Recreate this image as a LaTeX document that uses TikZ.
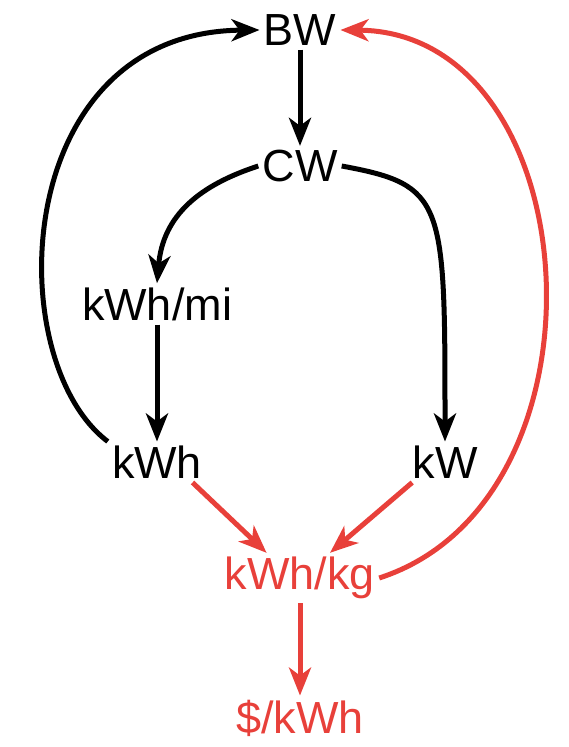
\documentclass[tikz,border=0pt]{standalone}
\usepackage{fontspec}
\setmainfont{Liberation Sans}
\usepackage{xcolor}
\usetikzlibrary{arrows.meta,positioning,calc}
\definecolor{ink}{HTML}{000000}
\definecolor{hotred}{HTML}{E8403A}

\begin{document}
\begin{tikzpicture}[x=1pt,y=-1pt,every node/.style={font=\fontsize{45}{50}\selectfont,inner sep=4pt},lab/.style={text=ink},redlab/.style={text=hotred},arr/.style={-{Stealth[length=28pt,width=22pt,inset=8pt]},line width=5pt,draw=ink},redarr/.style={arr,draw=hotred}]
\useasboundingbox (0,0) rectangle (568,747);
\node[lab] (bw) at (300,30) {BW};
\node[lab] (cw) at (300,166) {CW};
\node[lab] (kwhmi) at (157,304) {kWh/mi};
\node[lab] (kwh) at (157,462) {kWh};
\node[lab] (kw) at (445,462) {kW};
\node[redlab] (kwhkg) at (300,578) {kWh/kg};
\node[redlab] (cost) at (300,718) {\$/kWh};
\draw[arr] (bw) -- (cw);
\draw[arr] (cw.west) .. controls (200,185) and (163,215) .. (kwhmi.north);
\draw[arr] (cw.east) .. controls (445,185) and (445,200) .. (kw.north);
\draw[arr] (kwhmi) -- (kwh);
\draw[arr] (kwh.north west) .. controls (0,360) and (10,32) .. (bw.west);
\draw[redarr] (kwh.-30) -- (kwhkg.143);
\draw[redarr] (kw.212) -- (kwhkg.40);
\draw[redarr] (kwhkg.east) .. controls (620,500) and (590,32) .. (bw.east);
\draw[redarr] (kwhkg) -- (cost);
\end{tikzpicture}
\end{document}
